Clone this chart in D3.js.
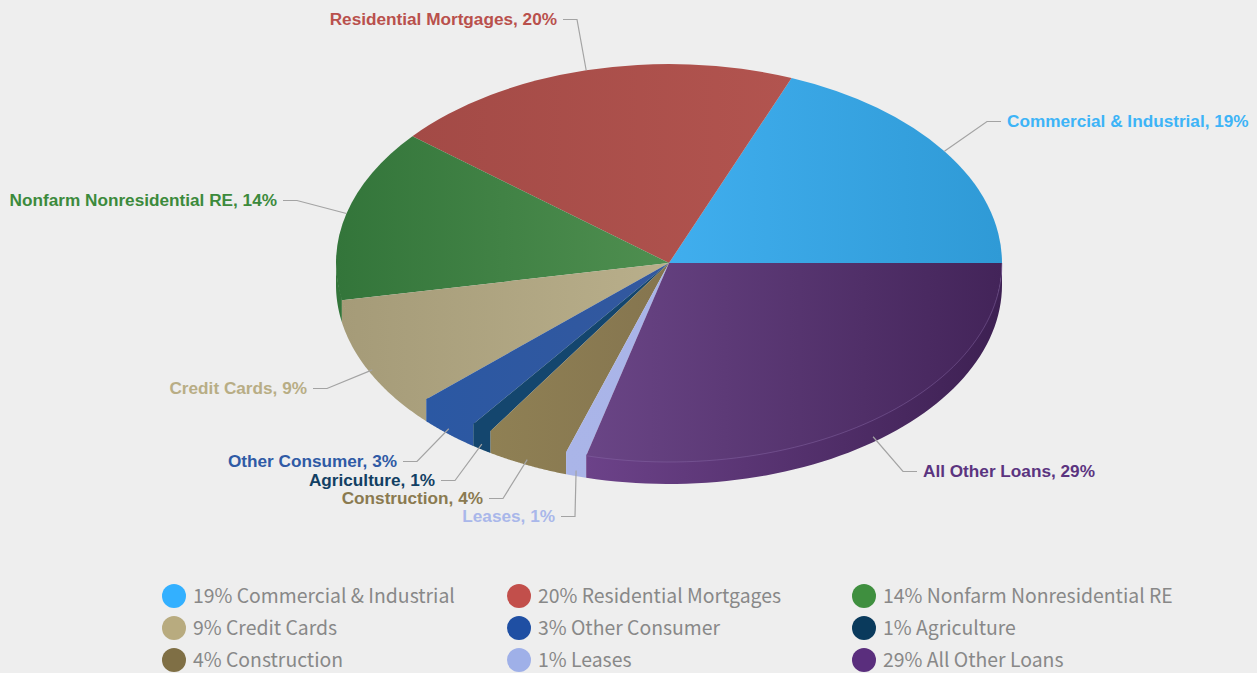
<!DOCTYPE html>
<html><head><meta charset="utf-8">
<script src="https://cdn.jsdelivr.net/npm/d3@7/dist/d3.min.js"></script>
<style>html,body{margin:0;padding:0;background:#eeeeee;overflow:hidden}svg{display:block}</style>
</head><body><svg id="c" width="1257" height="673"></svg>
<script>
// data
const categories = ["Commercial & Industrial","Residential Mortgages","Nonfarm Nonresidential RE","Credit Cards","Other Consumer","Agriculture","Construction","Leases","All Other Loans"];
const values = [19,20,14,9,3,1,4,1,29];
// styles
const legendColors = ["#33b0ff","#c24f4b","#3f8f3f","#b8ab7f","#1f4fa3","#0a3a5c","#7f6f45","#9fb0e8","#5a2e7d"];
const labelColors  = ["#3db4f7","#b9504c","#3c8a3c","#b8ad85","#2f5aa5","#123f63","#8a7a50","#a9b7ea","#5b3480"];
const topLeft  = ["#40aeee","#a34a46","#33753a","#a59b78","#2b58a3","#14466e","#8f8054","#aab5e8","#6a4586"];
const topRight = ["#2f9ad6","#b2544f","#4f8f50","#b9af8b","#33589e","#14466e","#85754f","#a9b4e8","#432459"];
// layout of the labels: text anchor x, text centre y
const labelX = [1007,557,277,307,397,435,483,555,923];
const labelY = [121,19,200,388,461,480,498,516,471];
const W=1257,H=673,cx=669,cy=263,rx=333,ry=199,depth=22;

const svg=d3.select("#c");
svg.append("rect").attr("width",W).attr("height",H).attr("fill","#eeeeee");
const defs=svg.append("defs");
function grad(id,a,b,x1,x2){const g=defs.append("linearGradient").attr("id",id)
   .attr("gradientUnits","userSpaceOnUse").attr("x1",x1).attr("x2",x2).attr("y1",0).attr("y2",0);
  g.append("stop").attr("offset",0).attr("stop-color",a);g.append("stop").attr("offset",1).attr("stop-color",b);}

const pie=d3.pie().sort(null).startAngle(Math.PI/2).endAngle(-3*Math.PI/2);
const arcs=pie(values);
const lx=a=>rx*Math.sin(a), py=a=>cy-ry*Math.cos(a);
const px=a=>cx+lx(a);
const sweep=(hi,lo)=>d3.range(0,61).map(k=>hi+(lo-hi)*k/60);

const wallG=svg.append("g").attr("transform",`translate(${cx},0)`);
const topG=svg.append("g").attr("transform",`translate(${cx},${cy}) scale(1,${ry/rx})`);
const rimG=svg.append("g").attr("transform",`translate(${cx},0)`);

// top faces
const arc=d3.arc().innerRadius(0).outerRadius(rx);
topG.selectAll("path").data(arcs).join("path").attr("d",arc)
 .each(function(d,i){const b=this.getBBox();
    grad("t"+i,topLeft[i],topRight[i],b.x,b.x+b.width);
    if(i===arcs.length-1) grad("w"+i,"#6c4289","#3d2052",b.x,b.x+b.width);})
 .attr("fill",d=>`url(#t${d.index})`);

// side walls (drawn beneath the top faces, reaching a little under them)
const wall=d3.area().x(lx).y0(a=>py(a)-2).y1(a=>py(a)+depth);
wallG.selectAll("path").data(arcs.filter(d=>Math.min(d.startAngle,-Math.PI/2)>Math.max(d.endAngle,-3*Math.PI/2))).join("path")
 .attr("d",d=>{const hi=Math.min(d.startAngle,-Math.PI/2),lo=Math.max(d.endAngle,-3*Math.PI/2);
   return wall(sweep(hi,lo));})
 .attr("fill",d=>d.index===arcs.length-1?`url(#w${d.index})`:`url(#t${d.index})`);

// faint rim between the top face and the side of the last slice
const last=arcs[arcs.length-1];
rimG.append("path").attr("d",d3.line().x(lx).y(py)(sweep(last.startAngle,last.endAngle)))
 .attr("fill","none").attr("stroke","#8a6aa8").attr("stroke-opacity",0.45).attr("stroke-width",1);

// connectors + labels
const g=svg.append("g");
arcs.forEach((d,i)=>{
  const m=(d.startAngle+d.endAngle)/2;
  const low=-Math.cos(m)>0;
  const ax=px(m), ay=py(m)+(low?depth*0.75:0);
  const right=Math.sin(m)>0;
  const dir=right?-1:1;
  const gx=labelX[i]+dir*6, ex=labelX[i]+dir*20, y=labelY[i]+0.5;
  g.append("path").attr("d",d3.line()([[ax,ay],[ex,y],[gx,y]]))
   .attr("fill","none").attr("stroke","#a3a3a3").attr("stroke-width",1.2);
  g.append("text").attr("x",labelX[i]).attr("y",labelY[i]).attr("dy","0.36em")
   .attr("text-anchor",right?"start":"end")
   .attr("font-family","'Liberation Sans',Arial,sans-serif").attr("font-weight",700).attr("font-size",17.2)
   .attr("fill",labelColors[i]).text(`${categories[i]}, ${values[i]}%`);
});

// legend
const col=d3.scalePoint().domain([0,1,2]).range([174,864]);
const row=d3.scalePoint().domain([0,1,2]).range([596,660]);
const lg=svg.append("g").selectAll("g").data(categories).join("g")
 .attr("transform",(d,i)=>`translate(${col(i%3)},${row(Math.floor(i/3))})`);
lg.append("circle").attr("r",12).attr("fill",(d,i)=>legendColors[i]);
lg.append("text").attr("x",19).attr("y",0.5).attr("dy","0.36em")
 .attr("font-family","'Noto Sans CJK SC','Noto Sans',sans-serif").attr("font-size",19.4).attr("fill","#888888")
 .text((d,i)=>`${values[i]}% ${d}`);
</script></body></html>
